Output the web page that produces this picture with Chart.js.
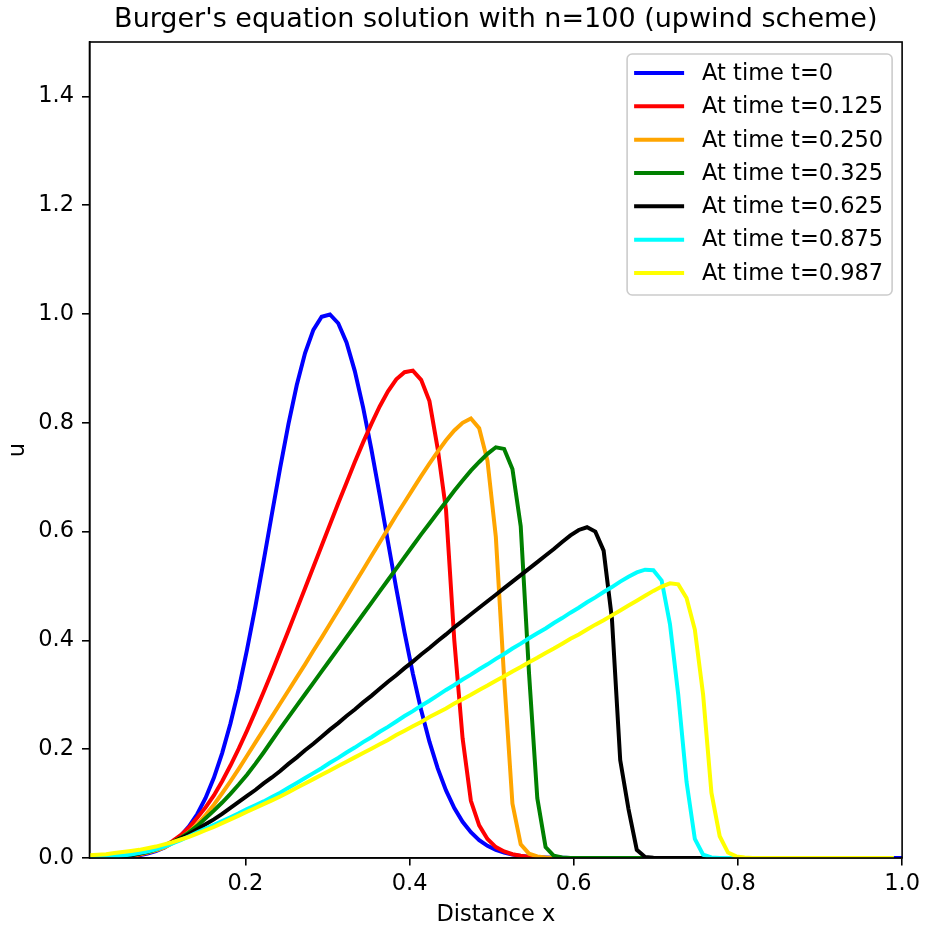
<!DOCTYPE html>
<html>
<head>
<meta charset="utf-8">
<script src="https://cdn.jsdelivr.net/npm/chart.js@4.4.1/dist/chart.umd.min.js"></script>
<style>
  html, body { margin: 0; padding: 0; background: #fff; }
  #wrap { width: 925px; height: 931px; }
</style>
</head>
<body>
<div id="wrap"><canvas id="myChart" width="925" height="931"></canvas></div>
<script>
// grid points x (n=100, first point dropped)
var xs = [
  0.0101,0.0202,0.0303,0.0404,0.0505,0.0606,0.0707,0.0808,0.0909,0.1010,
  0.1111,0.1212,0.1313,0.1414,0.1515,0.1616,0.1717,0.1818,0.1919,0.2020,
  0.2121,0.2222,0.2323,0.2424,0.2525,0.2626,0.2727,0.2828,0.2929,0.3030,
  0.3131,0.3232,0.3333,0.3434,0.3535,0.3636,0.3737,0.3838,0.3939,0.4040,
  0.4141,0.4242,0.4343,0.4444,0.4545,0.4646,0.4747,0.4848,0.4949,0.5051,
  0.5152,0.5253,0.5354,0.5455,0.5556,0.5657,0.5758,0.5859,0.5960,0.6061,
  0.6162,0.6263,0.6364,0.6465,0.6566,0.6667,0.6768,0.6869,0.6970,0.7071,
  0.7172,0.7273,0.7374,0.7475,0.7576,0.7677,0.7778,0.7879,0.7980,0.8081,
  0.8182,0.8283,0.8384,0.8485,0.8586,0.8687,0.8788,0.8889,0.8990,0.9091,
  0.9192,0.9293,0.9394,0.9495,0.9596,0.9697,0.9798,0.9899,1.0000
];

// u values, one array per time
var uT0 = [
  0.0002,0.0004,0.0007,0.0012,0.002,0.0032,0.0052,0.0082,0.0126,0.0191,
  0.0282,0.0409,0.0581,0.0809,0.1103,0.1473,0.1928,0.2473,0.3107,0.3829,
  0.4618,0.5459,0.6324,0.7176,0.798,0.8694,0.9282,0.9708,0.995,0.9991,
  0.983,0.9476,0.895,0.8283,0.7511,0.6673,0.5809,0.4954,0.4141,0.339,
  0.272,0.2138,0.1647,0.1243,0.0919,0.0666,0.0473,0.0329,0.0224,0.0149,
  0.0098,0.0062,0.0039,0.0024,0.0015,0.0009,0.0005,0.0003,0.0002,0.0001,
  0,0,0,0,0,0,0,0,0,0,
  0,0,0,0,0,0,0,0,0,0,
  0,0,0,0,0,0,0,0,0,0,
  0,0,0,0,0,0,0,0,0
];
var uT0125 = [
  0,0.0002,0.0005,0.001,0.002,0.004,0.006,0.010,0.015,0.022,
  0.031,0.042,0.056,0.074,0.093,0.115,0.141,0.170,0.201,0.234,
  0.269,0.305,0.342,0.380,0.418,0.457,0.496,0.535,0.574,0.613,
  0.652,0.690,0.728,0.764,0.798,0.830,0.858,0.880,0.893,0.896,
  0.879,0.840,0.752,0.640,0.400,0.220,0.105,0.060,0.035,0.020,
  0.012,0.007,0.004,0.002,0.001,0,0,0,0,0,
  0,0,0,0,0,0,0,0,0,0,
  0,0,0,0,0,0,0,0,0,0,
  0,0,0,0,0,0,0,0,0,0,
  0,0,0,0,0,0,0,0
];
var uT0250 = [
  0.0003,0.0006,0.001,0.002,0.003,0.005,0.007,0.010,0.014,0.019,
  0.027,0.036,0.048,0.062,0.079,0.098,0.119,0.141,0.164,0.188,
  0.212,0.236,0.260,0.284,0.308,0.332,0.356,0.381,0.405,0.430,
  0.455,0.480,0.505,0.530,0.555,0.580,0.605,0.630,0.654,0.678,
  0.702,0.725,0.747,0.768,0.786,0.800,0.808,0.790,0.730,0.590,
  0.330,0.100,0.025,0.008,0.003,0.001,0,0,0,0,
  0,0,0,0,0,0,0,0,0,0,
  0,0,0,0,0,0,0,0,0,0,
  0,0,0,0,0,0,0,0,0,0,
  0,0,0,0,0,0,0,0
];
var uT0325 = [
  0.0003,0.0007,0.0012,0.002,0.003,0.005,0.008,0.011,0.016,0.022,
  0.029,0.037,0.047,0.059,0.073,0.087,0.102,0.118,0.135,0.153,
  0.173,0.194,0.216,0.238,0.259,0.280,0.301,0.322,0.343,0.364,
  0.385,0.406,0.427,0.448,0.469,0.490,0.511,0.532,0.553,0.574,
  0.595,0.615,0.635,0.655,0.675,0.694,0.712,0.728,0.743,0.755,
  0.752,0.715,0.610,0.340,0.110,0.020,0.004,0.001,0,0,
  0,0,0,0,0,0,0,0,0,0,
  0,0,0,0,0,0,0,0,0,0,
  0,0,0,0,0,0,0,0,0,0,
  0,0,0,0,0,0,0,0
];
var uT0625 = [
  0.0003,0.0007,0.0013,0.002,0.003,0.005,0.008,0.012,0.017,0.023,
  0.029,0.036,0.044,0.053,0.062,0.071,0.081,0.092,0.103,0.114,
  0.125,0.137,0.148,0.160,0.173,0.185,0.198,0.210,0.223,0.236,
  0.248,0.261,0.273,0.286,0.298,0.311,0.324,0.336,0.349,0.361,
  0.374,0.386,0.399,0.411,0.424,0.436,0.448,0.460,0.472,0.484,
  0.496,0.508,0.520,0.532,0.544,0.556,0.568,0.581,0.593,0.603,
  0.608,0.600,0.565,0.440,0.180,0.090,0.015,0.002,0.0003,0,
  0,0,0,0,0,0,0,0,0,0,
  0,0,0,0,0,0,0,0,0,0,
  0,0,0,0,0,0,0,0
];
var uT0875 = [
  0.0005,0.001,0.0018,0.003,0.0045,0.0065,0.009,0.012,0.016,0.021,
  0.027,0.033,0.040,0.047,0.054,0.061,0.068,0.075,0.082,0.090,
  0.097,0.104,0.112,0.120,0.129,0.138,0.147,0.156,0.165,0.175,
  0.184,0.194,0.203,0.213,0.222,0.232,0.241,0.251,0.261,0.270,
  0.280,0.289,0.299,0.309,0.318,0.328,0.337,0.347,0.356,0.366,
  0.375,0.385,0.394,0.404,0.413,0.422,0.432,0.441,0.451,0.460,
  0.470,0.479,0.489,0.498,0.508,0.517,0.525,0.530,0.529,0.510,
  0.430,0.300,0.140,0.035,0.006,0.001,0,0,0,0,
  0,0,0,0,0,0,0,0,0,0,
  0,0,0,0,0,0,0,0
];
var uT0987 = [
  0.005,0.006,0.007,0.009,0.011,0.013,0.015,0.018,0.021,0.025,
  0.029,0.034,0.039,0.045,0.051,0.057,0.064,0.071,0.078,0.085,
  0.092,0.099,0.106,0.113,0.121,0.129,0.137,0.145,0.153,0.161,
  0.169,0.177,0.185,0.193,0.201,0.209,0.217,0.226,0.234,0.242,
  0.250,0.259,0.267,0.275,0.284,0.292,0.300,0.309,0.317,0.326,
  0.334,0.343,0.351,0.360,0.368,0.377,0.385,0.394,0.403,0.411,
  0.420,0.429,0.437,0.446,0.455,0.464,0.473,0.482,0.491,0.499,
  0.505,0.503,0.478,0.420,0.300,0.120,0.040,0.010,0.003,0.001,
  0,0,0,0,0,0,0,0,0,0,
  0,0,0,0,0,0,0,0
];

var seriesLabels = ["At time t=0", "At time t=0.125", "At time t=0.250", "At time t=0.325",
                    "At time t=0.625", "At time t=0.875", "At time t=0.987"];
var seriesValues = [uT0, uT0125, uT0250, uT0325, uT0625, uT0875, uT0987];
var seriesColors = ["#0000ff", "#ff0000", "#ffa500", "#008000", "#000000", "#00ffff", "#ffff00"];

var xTicks = [0.2, 0.4, 0.6, 0.8, 1.0];
var yTicks = [0.0, 0.2, 0.4, 0.6, 0.8, 1.0, 1.2, 1.4];

var FONT = "'DejaVu Sans', sans-serif";
var LINE_W = 4;

// Build datasets, later series drawn on top like matplotlib
var datasets = seriesValues.map(function (vals, k) {
    return {
        label: seriesLabels[k],
        data: vals.map(function (v, i) { return { x: xs[i], y: v }; }),
        borderColor: seriesColors[k],
        backgroundColor: seriesColors[k],
        borderWidth: LINE_W,
        pointRadius: 0,
        tension: 0,
        fill: false,
        order: seriesValues.length - k,
    };
});

// box around the plot area (all four spines)
var frame = {
    id: "frame",
    afterDatasetsDraw: function (chart) {
        var a = chart.chartArea, ctx = chart.ctx;
        ctx.save();
        ctx.strokeStyle = "#000";
        ctx.lineWidth = 1.6;
        ctx.strokeRect(a.left, a.top, a.right - a.left, a.bottom - a.top);
        ctx.restore();
    },
};

// matplotlib style legend in the upper right corner
var legendBox = {
    id: "legendBox",
    afterDraw: function (chart) {
        var a = chart.chartArea, ctx = chart.ctx;
        var w = 265, h = 241;
        var x0 = a.right - 275, y0 = a.top + 12;
        ctx.save();
        ctx.beginPath();
        if (ctx.roundRect) ctx.roundRect(x0, y0, w, h, 5);
        else ctx.rect(x0, y0, w, h);
        ctx.fillStyle = "rgba(255,255,255,0.8)";
        ctx.fill();
        ctx.strokeStyle = "#cccccc";
        ctx.lineWidth = 1.6;
        ctx.stroke();
        ctx.font = "22.5px " + FONT;
        ctx.textBaseline = "middle";
        ctx.textAlign = "left";
        chart.data.datasets.forEach(function (ds, k) {
            var y = y0 + 19 + k * 33.33;
            ctx.beginPath();
            ctx.moveTo(x0 + 7, y);
            ctx.lineTo(x0 + 57, y);
            ctx.strokeStyle = ds.borderColor;
            ctx.lineWidth = LINE_W;
            ctx.stroke();
            ctx.fillStyle = "#000";
            ctx.fillText(ds.label, x0 + 75, y + 1);
        });
        ctx.restore();
    },
};

var ctx = document.getElementById("myChart").getContext("2d");

var myChart = new Chart(ctx, {
    type: "line",
    data: { datasets: datasets },
    options: {
        responsive: false,
        animation: false,
        devicePixelRatio: 1,
        layout: { padding: { left: 0, right: 19, top: 0, bottom: 0 } },
        plugins: {
            legend: { display: false },
            tooltip: { enabled: false },
            title: {
                display: true,
                fullSize: false,
                text: "Burger's equation solution with n=100 (upwind scheme)",
                color: "#000",
                font: { family: FONT, size: 27, weight: "normal" },
                padding: { top: 4, bottom: 5.6 },
            },
        },
        scales: {
            x: {
                type: "linear",
                min: xs[0],
                max: 1.0,
                afterBuildTicks: function (scale) {
                    scale.ticks = xTicks.map(function (v) { return { value: v }; });
                },
                afterFit: function (scale) { scale.height = 73; },
                ticks: {
                    color: "#000",
                    font: { family: FONT, size: 22.5 },
                    padding: 5,
                    maxRotation: 0,
                    callback: function (v) { return v.toFixed(1); },
                },
                grid: { drawOnChartArea: false, drawTicks: true, tickLength: 7.5, color: "#000", lineWidth: 1.6 },
                border: { display: true, color: "#000", width: 1.6 },
                title: {
                    display: true,
                    text: "Distance x",
                    color: "#000",
                    font: { family: FONT, size: 22.5 },
                    padding: { top: 4, bottom: 2.5 },
                },
            },
            y: {
                type: "linear",
                min: 0,
                max: 1.5,
                afterBuildTicks: function (scale) {
                    scale.ticks = yTicks.map(function (v) { return { value: v }; });
                },
                afterFit: function (scale) { scale.width = 89.5; },
                ticks: {
                    color: "#000",
                    font: { family: FONT, size: 22.5 },
                    padding: 8,
                    callback: function (v) { return v.toFixed(1); },
                },
                grid: { drawOnChartArea: false, drawTicks: true, tickLength: 7.5, color: "#000", lineWidth: 1.6 },
                border: { display: true, color: "#000", width: 1.6 },
                title: {
                    display: true,
                    text: "u",
                    color: "#000",
                    font: { family: FONT, size: 22.5 },
                    padding: { top: 4.5, bottom: 0 },
                },
            },
        },
    },
    plugins: [frame, legendBox],
});
</script>
</body>
</html>
